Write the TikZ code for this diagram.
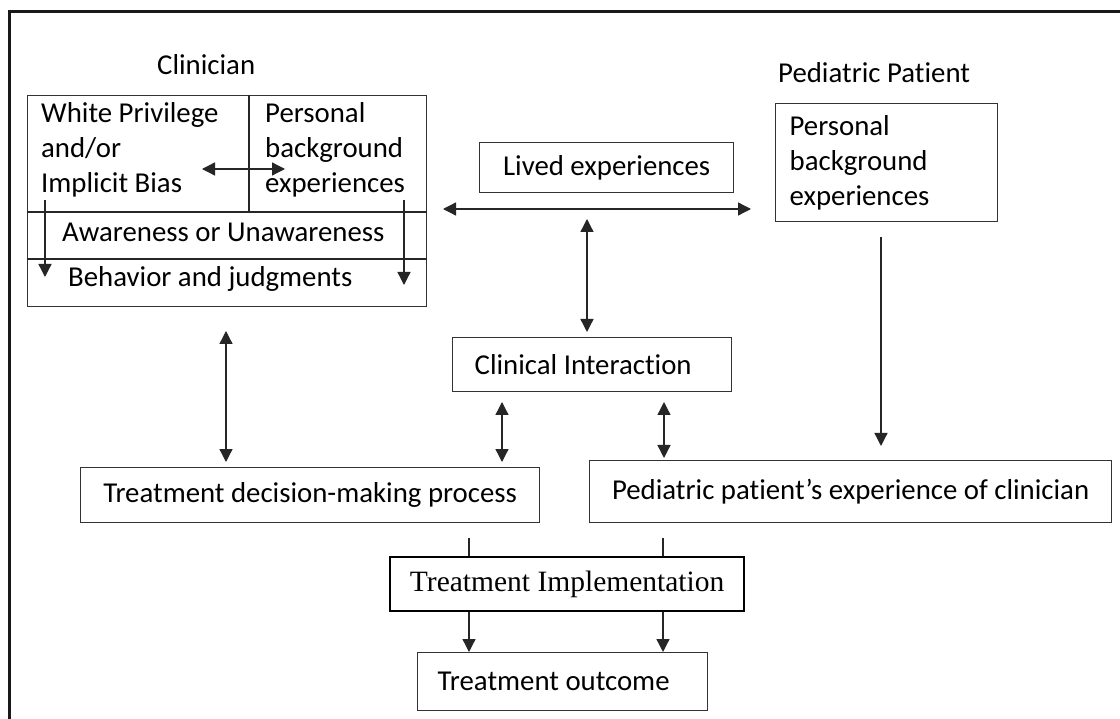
\documentclass[tikz,border=0pt]{standalone}
\usepackage{fontspec}
\setmainfont[Ligatures={NoCommon,NoDiscretionary,NoContextual}]{Carlito}
\newfontfamily\tnr{Liberation Serif}
\usetikzlibrary{arrows.meta}
\begin{document}
\begin{tikzpicture}[x=1pt,y=-1pt,
  every node/.style={inner sep=0pt, font=\fontsize{28.8}{35}\selectfont},
  box/.style={draw=black!80, line width=1.3pt, rectangle},
  lbl/.style={anchor=west, align=left},
  conn/.style={draw=black!85, line width=1.3pt},
  arr/.style={conn, -{Triangle[length=13pt,width=13pt]}},
  darr/.style={conn, {Triangle[length=13pt,width=13pt]}-{Triangle[length=13pt,width=13pt]}},
]
\useasboundingbox (0,0) rectangle (1120,719);
\fill[white] (0,0) rectangle (1120,719);
\clip (0,0) rectangle (1120,719);
\draw[line width=3pt, black!90] (9,740) -- (9,12) -- (1140,12);

% Clinician
\node[lbl] (clintitle) at (157,65) {Clinician};
\node[box, minimum width=399pt, minimum height=211pt, anchor=north west] (clin) at (27,95) {};
\coordinate (dv) at (249,212);
\coordinate (h2c) at (249,259);
\draw[conn] (dv |- clin.north) -- (dv);
\draw[conn] (clin.west |- dv) -- (clin.east |- dv);
\draw[conn] (clin.west |- h2c) -- (clin.east |- h2c);
\node[lbl] (wp) at (41,150) {White Privilege\\and/or\\Implicit Bias};
\node[lbl] (pb) at (265,150) {Personal\\background\\experiences};
\node[lbl] (aw) at (62,232) {Awareness or Unawareness};
\node[lbl] (bj) at (68,279) {Behavior and judgments};

% Patient
\node[lbl] (pattitle) at (778,73) {Pediatric Patient};
\node[box, anchor=north west, text width=194pt, inner xsep=14pt, minimum height=118pt, align=left] (pat) at (775,103) {Personal\\background\\experiences};

% Center boxes
\node[box, minimum width=254pt, minimum height=50pt, anchor=north west] (lived) at (479,142) {Lived experiences};
\node[box, minimum width=279pt, minimum height=54pt, anchor=north west] (ci) at (452,337) {\hspace*{-18pt}Clinical Interaction};
\node[box, minimum width=459pt, minimum height=55pt, anchor=north west] (tdm) at (80,467) {Treatment decision-making process};
\node[box, minimum width=522pt, minimum height=62pt, anchor=north west] (ppe) at (589,460) {Pediatric patient’s experience of clinician};
\node[box, line width=2.3pt, draw=black, minimum width=354pt, minimum height=54pt, anchor=north west, font=\tnr\fontsize{29.5}{35}\selectfont] (ti) at (389,556) {Treatment Implementation};
\node[box, minimum width=290pt, minimum height=58pt, anchor=north west] (outc) at (417,652) {\hspace*{-18pt}Treatment outcome};

% Connectors inside clinician box
\coordinate (a1) at (202,169); \coordinate (a2) at (285,169);
\draw[darr] (a1) -- (a2);
\coordinate (l1) at (45,200); \coordinate (l2) at (45,277);
\draw[arr] (l1) -- (l2);
\coordinate (r1) at (404,200); \coordinate (r2) at (404,285);
\draw[arr] (r1) -- (r2);

% Lived experiences arrows
\coordinate (h1) at (443,209); \coordinate (h2) at (751,209);
\draw[darr] (h1) -- (h2);
\coordinate (v1) at (587,219);
\draw[darr, shorten >=5pt] (v1) -- (v1 |- ci.north);

% Clinician to TDM
\coordinate (cl1) at (226,331);
\draw[darr, shorten >=5pt] (cl1) -- (cl1 |- tdm.north);

% CI to TDM and PPE
\coordinate (c1) at (502,402);
\draw[darr, shorten >=5pt] (c1) -- (c1 |- tdm.north);
\coordinate (c2) at (664,402);
\draw[darr, shorten >=2pt] (c2) -- (c2 |- ppe.north);

% Patient to PPE
\coordinate (p1) at (881,237);
\draw[arr, shorten >=14pt] (p1) -- (p1 |- ppe.north);

% Drops to TI and outcome
\coordinate (d1) at (469,538);
\coordinate (d2) at (663,538);
\draw[conn] (d1) -- (d1 |- ti.north);
\draw[conn] (d2) -- (d2 |- ti.north);
\draw[arr] (d1 |- ti.south) -- (d1 |- outc.north);
\draw[arr] (d2 |- ti.south) -- (d2 |- outc.north);
\end{tikzpicture}
\end{document}
